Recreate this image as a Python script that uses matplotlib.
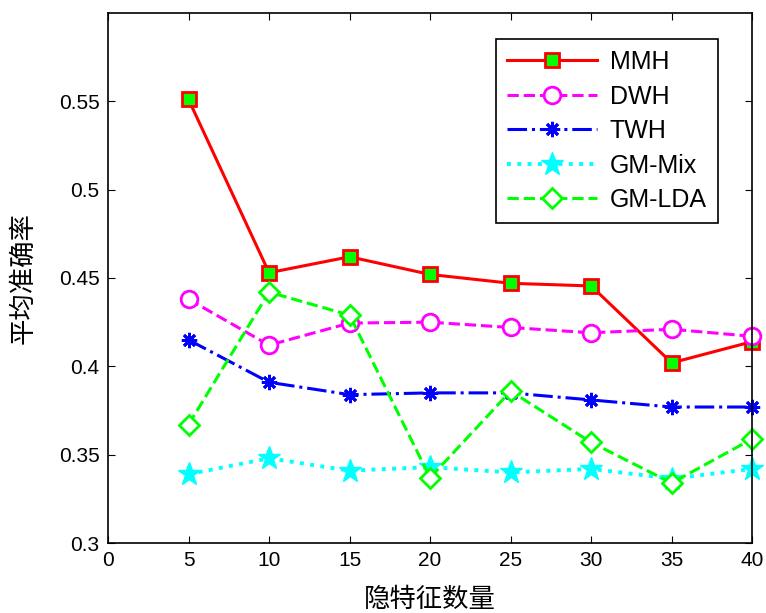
import matplotlib
matplotlib.use("Agg")
import matplotlib.pyplot as plt

x = [5, 10, 15, 20, 25, 30, 35, 40]

mmh    = [0.551, 0.453, 0.462, 0.452, 0.447, 0.4455, 0.402, 0.414]
dwh    = [0.438, 0.412, 0.4245, 0.425, 0.422, 0.419, 0.421, 0.417]
twh    = [0.415, 0.391, 0.384, 0.385, 0.385, 0.381, 0.377, 0.377]
gm_mix = [0.339, 0.348, 0.341, 0.343, 0.340, 0.342, 0.3365, 0.342]
gm_lda = [0.367, 0.442, 0.429, 0.337, 0.386, 0.357, 0.334, 0.359]

xticks = [0, 5, 10, 15, 20, 25, 30, 35, 40]
yticks = [0.3, 0.35, 0.4, 0.45, 0.5, 0.55]
ytick_labels = ["0.3", "0.35", "0.4", "0.45", "0.5", "0.55"]

plt.rcParams["font.family"] = ["Liberation Sans", "DejaVu Sans"]

fig = plt.figure(figsize=(7.66, 6.13), dpi=100)
ax = fig.add_axes([0.141, 0.114, 0.841, 0.865])

lw = 2.2
ax.plot(x, mmh, "-", color="red", lw=lw, marker="s", ms=10,
        mfc=(0, 1, 0), mec="red", mew=2, label="MMH", clip_on=False)
ax.plot(x, dwh, "--", color="magenta", lw=lw, marker="o", ms=12,
        mfc="white", mec="magenta", mew=2, label="DWH", clip_on=False)
ax.plot(x, twh, "-.", color="blue", lw=lw, marker=(8, 2, 0), ms=11,
        mec="blue", mew=2, label="TWH", clip_on=False)
ax.plot(x, gm_mix, ":", color="cyan", lw=lw + 0.6, marker="*", ms=17,
        mfc="cyan", mec="cyan", mew=1, label="GM-Mix", clip_on=False)
ax.plot(x, gm_lda, "--", color=(0, 1, 0), lw=lw, marker="D", ms=10,
        mfc="white", mec=(0, 1, 0), mew=2, label="GM-LDA", clip_on=False)

ax.set_xlim(0, 40)
ax.set_ylim(0.3, 0.6)
ax.set_xticks(xticks)
ax.set_yticks(yticks)
ax.set_yticklabels(ytick_labels)
ax.tick_params(direction="in", top=True, right=True, labelsize=15, length=5, pad=6)
for s in ax.spines.values():
    s.set_linewidth(1.2)

cjk = ["Noto Sans CJK SC", "DejaVu Sans"]
ax.set_xlabel("隐特征数量", family=cjk, fontsize=19, labelpad=11)
ax.set_ylabel("平均准确率", family=cjk, fontsize=19, labelpad=16)

leg = ax.legend(loc="upper right", bbox_to_anchor=(0.947, 0.951), fontsize=18,
                fancybox=False, edgecolor="black", framealpha=1,
                handlelength=3.6, borderpad=0.45, labelspacing=0.42,
                handletextpad=0.5, borderaxespad=0)
leg.get_frame().set_linewidth(1.2)

fig.savefig("out.png", dpi=100)
